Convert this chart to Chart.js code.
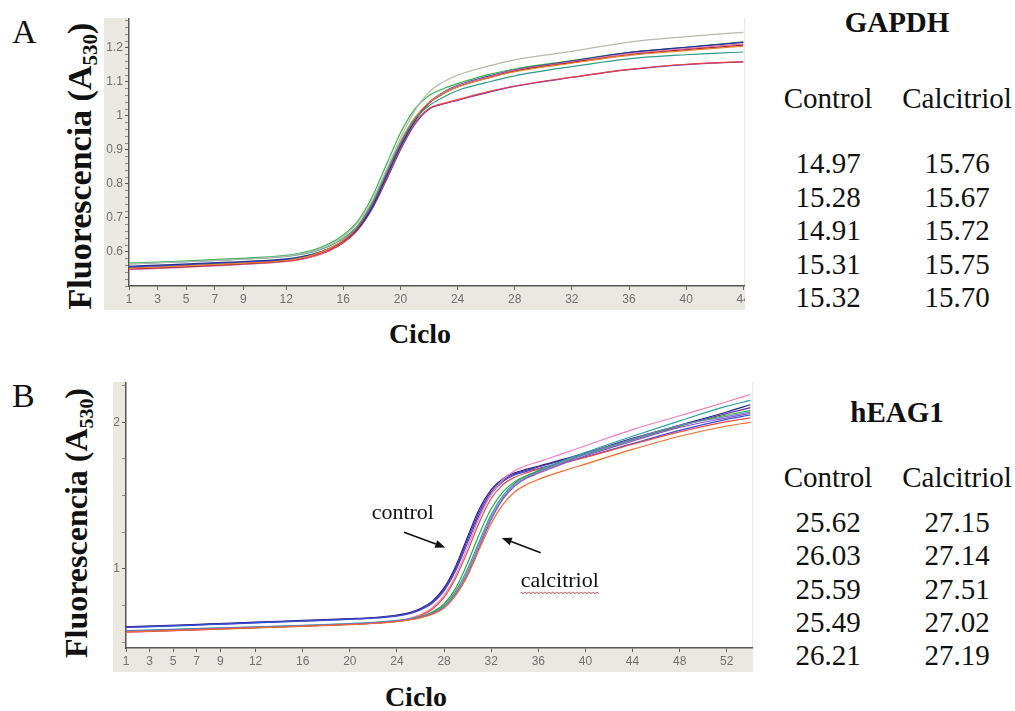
<!DOCTYPE html>
<html>
<head>
<meta charset="utf-8">
<script src="https://cdn.jsdelivr.net/npm/chart.js@4.4.0/dist/chart.umd.min.js"></script>
<style>
html, body { margin: 0; padding: 0; background: #fff; }
body { width: 1015px; height: 711px; position: relative; overflow: hidden; color: #111; font-family: "Liberation Serif", "Times New Roman", serif; }
canvas { position: absolute; }
.t { position: absolute; white-space: nowrap; }
.ytitle { position: absolute; white-space: nowrap; font-weight: bold; font-family: "Liberation Serif", "Times New Roman", serif; transform: translate(-50%, -50%) rotate(-90deg); }
.ytitle sub { font-size: 62%; vertical-align: -0.28em; }
</style>
</head>
<body>
<canvas id="chartA" width="641" height="292" style="left:104px;top:18px"></canvas>
<canvas id="chartB" width="640" height="290" style="left:113px;top:382px"></canvas>
<script>
// ---- Panel A (GAPDH) ----
const cyclesA = [1, 4, 8, 12, 13, 14, 15, 16, 17, 18, 19, 20, 21, 22, 23, 24, 26, 28, 32, 36, 40, 44];
const grayA   = [0.565, 0.570, 0.577, 0.588, 0.594, 0.604, 0.620, 0.645, 0.685, 0.750, 0.840, 0.935, 1.015, 1.070, 1.100, 1.120, 1.145, 1.165, 1.190, 1.217, 1.233, 1.246];
const greenA  = [0.567, 0.572, 0.580, 0.590, 0.597, 0.607, 0.624, 0.650, 0.690, 0.760, 0.855, 0.950, 1.020, 1.060, 1.080, 1.095, 1.120, 1.138, 1.163, 1.187, 1.202, 1.218];
const blueA   = [0.556, 0.561, 0.568, 0.578, 0.584, 0.594, 0.610, 0.632, 0.670, 0.735, 0.825, 0.915, 0.990, 1.040, 1.070, 1.090, 1.115, 1.135, 1.160, 1.186, 1.201, 1.217];
const orangeA = [0.552, 0.557, 0.565, 0.575, 0.582, 0.593, 0.610, 0.635, 0.675, 0.745, 0.835, 0.925, 0.995, 1.040, 1.066, 1.085, 1.110, 1.130, 1.155, 1.178, 1.192, 1.205];
const darkRedA = [0.550, 0.555, 0.563, 0.574, 0.580, 0.591, 0.608, 0.633, 0.672, 0.740, 0.830, 0.920, 0.990, 1.038, 1.065, 1.085, 1.110, 1.132, 1.157, 1.180, 1.195, 1.208];
const pinkA   = [0.548, 0.553, 0.561, 0.572, 0.579, 0.590, 0.607, 0.632, 0.672, 0.740, 0.830, 0.920, 0.990, 1.040, 1.068, 1.088, 1.113, 1.134, 1.159, 1.183, 1.198, 1.212];
const tealA   = [0.565, 0.570, 0.577, 0.587, 0.593, 0.602, 0.617, 0.640, 0.677, 0.742, 0.832, 0.920, 0.990, 1.030, 1.055, 1.075, 1.098, 1.118, 1.145, 1.168, 1.180, 1.188];
const redA    = [0.550, 0.555, 0.562, 0.572, 0.578, 0.588, 0.603, 0.627, 0.665, 0.730, 0.815, 0.905, 0.980, 1.022, 1.037, 1.048, 1.070, 1.088, 1.114, 1.137, 1.152, 1.160];
const purpleA = [0.554, 0.559, 0.566, 0.576, 0.582, 0.591, 0.605, 0.628, 0.664, 0.725, 0.810, 0.900, 0.975, 1.020, 1.035, 1.046, 1.068, 1.087, 1.113, 1.136, 1.151, 1.159];
const navyA   = [0.558, 0.563, 0.570, 0.580, 0.586, 0.595, 0.610, 0.632, 0.668, 0.730, 0.820, 0.910, 0.985, 1.038, 1.068, 1.088, 1.114, 1.135, 1.161, 1.186, 1.202, 1.216];
const xTicksA = [1, 3, 5, 7, 9, 12, 16, 20, 24, 28, 32, 36, 40, 44];
const yTicksA = [0.6, 0.7, 0.8, 0.9, 1, 1.1, 1.2];

// ---- Panel B (hEAG1) ----
const cyclesB = [1, 4, 8, 12, 16, 20, 22, 24, 25, 26, 27, 28, 29, 30, 31, 32, 33, 34, 35, 36, 38, 40, 44, 48, 52, 54];
const navyB   = [0.605, 0.612, 0.624, 0.636, 0.648, 0.660, 0.668, 0.685, 0.700, 0.730, 0.780, 0.870, 1.020, 1.220, 1.410, 1.540, 1.615, 1.655, 1.680, 1.700, 1.745, 1.790, 1.890, 1.980, 2.070, 2.120];
const blueB   = [0.600, 0.607, 0.619, 0.631, 0.643, 0.655, 0.663, 0.678, 0.692, 0.720, 0.765, 0.850, 0.990, 1.180, 1.370, 1.510, 1.595, 1.640, 1.665, 1.685, 1.725, 1.765, 1.855, 1.945, 2.020, 2.050];
const redB    = [0.570, 0.577, 0.588, 0.599, 0.610, 0.622, 0.630, 0.643, 0.656, 0.680, 0.725, 0.805, 0.940, 1.120, 1.320, 1.480, 1.575, 1.625, 1.655, 1.680, 1.720, 1.760, 1.850, 1.935, 2.005, 2.030];
const pinkB   = [0.568, 0.575, 0.586, 0.598, 0.610, 0.622, 0.630, 0.645, 0.660, 0.688, 0.735, 0.820, 0.960, 1.150, 1.350, 1.510, 1.610, 1.670, 1.705, 1.730, 1.785, 1.840, 1.950, 2.045, 2.140, 2.190];
const purpleB = [0.602, 0.609, 0.621, 0.633, 0.645, 0.657, 0.665, 0.681, 0.696, 0.725, 0.772, 0.860, 1.005, 1.200, 1.390, 1.525, 1.605, 1.648, 1.673, 1.695, 1.740, 1.785, 1.885, 1.975, 2.060, 2.100];
const greenB  = [0.572, 0.579, 0.589, 0.599, 0.609, 0.621, 0.629, 0.642, 0.653, 0.672, 0.705, 0.760, 0.870, 1.040, 1.240, 1.410, 1.525, 1.595, 1.635, 1.665, 1.725, 1.780, 1.880, 1.975, 2.050, 2.080];
const tealB   = [0.578, 0.585, 0.595, 0.605, 0.615, 0.627, 0.635, 0.648, 0.658, 0.675, 0.702, 0.748, 0.850, 1.000, 1.190, 1.370, 1.500, 1.585, 1.635, 1.670, 1.735, 1.795, 1.905, 2.010, 2.110, 2.150];
const slateB  = [0.575, 0.582, 0.592, 0.602, 0.612, 0.624, 0.632, 0.645, 0.655, 0.670, 0.697, 0.740, 0.835, 0.980, 1.170, 1.350, 1.485, 1.575, 1.625, 1.660, 1.725, 1.785, 1.885, 1.980, 2.040, 2.070];
const violetB = [0.573, 0.580, 0.590, 0.600, 0.610, 0.622, 0.630, 0.643, 0.653, 0.668, 0.693, 0.735, 0.825, 0.965, 1.150, 1.335, 1.475, 1.565, 1.618, 1.652, 1.715, 1.772, 1.872, 1.965, 2.030, 2.060];
const orangeB = [0.570, 0.577, 0.587, 0.597, 0.607, 0.619, 0.627, 0.640, 0.650, 0.665, 0.690, 0.732, 0.820, 0.955, 1.135, 1.310, 1.440, 1.525, 1.575, 1.610, 1.665, 1.715, 1.815, 1.905, 1.975, 2.000];
const xTicksB = [1, 3, 5, 7, 9, 12, 16, 20, 24, 28, 32, 36, 40, 44, 48, 52];
const yTicksB = [1, 2];

// ---- Ct tables ----
const gapdhControl = ["14.97", "15.28", "14.91", "15.31", "15.32"];
const gapdhCalcitriol = ["15.76", "15.67", "15.72", "15.75", "15.70"];
const heagControl = ["25.62", "26.03", "25.59", "25.49", "26.21"];
const heagCalcitriol = ["27.15", "27.14", "27.51", "27.02", "27.19"];

const seriesA = [
  [grayA, "#b9b9b0"], [tealA, "#2f9c8c"], [orangeA, "#e8862e"], [darkRedA, "#a8243e"],
  [pinkA, "#e27ab0"], [navyA, "#28308c"], [blueA, "#3a5ad6"], [greenA, "#38b548"],
  [redA, "#ee4040"], [purpleA, "#6a34c8"]
];
const seriesB = [
  [orangeB, "#f26a2a"], [violetB, "#8f52cc"], [slateB, "#7088b8"], [greenB, "#2fa83c"],
  [tealB, "#2aa0a0"], [redB, "#ec4a4a"], [pinkB, "#f07cc0"], [blueB, "#3350d8"],
  [purpleB, "#5b2c9e"], [navyB, "#1c2280"]
];

const panelBg = {
  id: "panelBg",
  beforeDraw(chart) {
    const { ctx, chartArea: a, width, height } = chart;
    ctx.save();
    ctx.fillStyle = "#ebe8e2";
    ctx.fillRect(0, 0, width, height);
    ctx.fillStyle = "#ffffff";
    ctx.fillRect(a.left, a.top, a.right - a.left, a.bottom - a.top);
    ctx.restore();
  }
};

function makeChart(id, cycles, series, xTicks, xMax, yMin, yMax, yMajor, yStep, yWidth) {
  const yAll = [];
  for (let v = Math.ceil(yMin / yStep) * yStep; v <= yMax + 1e-9; v += yStep) yAll.push(Math.round(v * 1000) / 1000);
  return new Chart(document.getElementById(id), {
    type: "line",
    data: {
      datasets: series.map(([vals, color]) => ({
        data: cycles.map((c, i) => ({ x: c, y: vals[i] })),
        borderColor: color,
        borderWidth: 1.2,
        pointRadius: 0,
        cubicInterpolationMode: "monotone",
        fill: false
      }))
    },
    options: {
      responsive: false,
      devicePixelRatio: 1,
      animation: false,
      events: [],
      layout: { padding: { top: 0, right: 1, left: 0, bottom: 0 } },
      plugins: { legend: { display: false }, tooltip: { enabled: false } },
      scales: {
        x: {
          type: "linear",
          min: 1,
          max: xMax,
          afterBuildTicks: s => { s.ticks = xTicks.map(v => ({ value: v })); },
          afterFit: s => { s.height = 24; s.paddingLeft = 0; s.paddingRight = 0; },
          ticks: {
            autoSkip: false, maxRotation: 0, minRotation: 0, padding: 2,
            color: "#707070", font: { family: "Liberation Sans", size: 12 },
            callback: v => String(v)
          },
          grid: { drawOnChartArea: false, drawTicks: true, tickLength: 4, tickColor: "#666" },
          border: { display: true, color: "#555", width: 1.5 }
        },
        y: {
          type: "linear",
          min: yMin,
          max: yMax,
          afterBuildTicks: s => { s.ticks = yAll.map(v => ({ value: v })); },
          afterFit: s => { s.width = yWidth; s.paddingTop = 0; s.paddingBottom = 0; },
          ticks: {
            autoSkip: false, padding: 2,
            color: "#707070", font: { family: "Liberation Sans", size: 12 },
            callback: v => {
              const r = Math.round(v * 1000) / 1000;
              return yMajor.some(m => Math.abs(m - r) < 1e-6) ? String(r) : "";
            }
          },
          grid: {
            drawOnChartArea: false, drawTicks: true, tickLength: 4,
            tickColor: ctx => {
              const r = Math.round(ctx.tick.value * 1000) / 1000;
              return yMajor.some(m => Math.abs(m - r) < 1e-6) ? "#555" : "#8a8a8a";
            }
          },
          border: { display: true, color: "#555", width: 1.5 }
        }
      }
    },
    plugins: [panelBg]
  });
}

const chartA = makeChart("chartA", cyclesA, seriesA, xTicksA, 44.05, 0.5, 1.288, yTicksA, 0.02, 25);
const chartB = makeChart("chartB", cyclesB, seriesB, xTicksB, 54.14, 0.46, 2.275, yTicksB, 0.25, 13);

// ---- text helpers ----
function addText(html, x, base, size, bold, center) {
  const d = document.createElement("div");
  d.className = "t";
  d.innerHTML = html;
  d.style.fontFamily = '"Liberation Serif", "Times New Roman", serif';
  d.style.fontSize = size + "px";
  d.style.fontWeight = bold ? "bold" : "normal";
  d.style.lineHeight = "0";
  d.style.left = x + "px";
  d.style.top = (base - 0.3375 * size) + "px";
  if (center) d.style.transform = "translateX(-50%)";
  document.body.appendChild(d);
  return d;
}
function addYTitle(cx, cy, size) {
  const d = document.createElement("div");
  d.className = "ytitle";
  d.innerHTML = "Fluorescencia (A<sub>530</sub>)";
  d.style.fontSize = size + "px";
  d.style.left = cx + "px";
  d.style.top = cy + "px";
  document.body.appendChild(d);
}

addText("A", 12, 43, 34, false, false);
addText("B", 12, 407, 34, false, false);
addYTitle(82, 166, 34);
addYTitle(78, 523, 32);
addText("Ciclo", 420, 343, 28, true, true);
addText("Ciclo", 416, 706, 28, true, true);

function addTable(title, titleBase, headBase, rowBase, rowStep, ctl, cal) {
  addText(title, 897, titleBase, 29, true, true);
  addText("Control", 828, headBase, 29, false, true);
  addText("Calcitriol", 957, headBase, 29, false, true);
  ctl.forEach((v, i) => addText(v, 828, rowBase + i * rowStep, 29, false, true));
  cal.forEach((v, i) => addText(v, 957, rowBase + i * rowStep, 29, false, true));
}
addTable("GAPDH", 32, 108, 173, 33.5, gapdhControl, gapdhCalcitriol);
addTable("hEAG1", 422, 487, 532, 33.2, heagControl, heagCalcitriol);

// ---- annotations on panel B (placed through the chart scales) ----
const notesB = [
  { text: "control", x: 24.5, y: 1.335, center: true },
  { text: "calcitriol", x: 34.5, y: 0.87, center: false, squiggle: true }
];
const arrowsB = [
  { from: [24.6, 1.25], to: [28.1, 1.145] },
  { from: [36.2, 1.11], to: [32.9, 1.21] }
];
const canvasB = document.getElementById("chartB");
const offB = { left: parseFloat(canvasB.style.left), top: parseFloat(canvasB.style.top) };
const sx = chartB.scales.x, sy = chartB.scales.y;
const ctxB = chartB.ctx;
ctxB.save();
ctxB.strokeStyle = "#111";
ctxB.fillStyle = "#111";
ctxB.lineWidth = 1.6;
arrowsB.forEach(a => {
  const x1 = sx.getPixelForValue(a.from[0]), y1 = sy.getPixelForValue(a.from[1]);
  const x2 = sx.getPixelForValue(a.to[0]), y2 = sy.getPixelForValue(a.to[1]);
  const ang = Math.atan2(y2 - y1, x2 - x1);
  const hl = 10, hw = 4;
  const bx = x2 - hl * Math.cos(ang), by = y2 - hl * Math.sin(ang);
  ctxB.beginPath();
  ctxB.moveTo(x1, y1);
  ctxB.lineTo(bx, by);
  ctxB.stroke();
  ctxB.beginPath();
  ctxB.moveTo(x2, y2);
  ctxB.lineTo(bx + hw * Math.sin(ang), by - hw * Math.cos(ang));
  ctxB.lineTo(bx - hw * Math.sin(ang), by + hw * Math.cos(ang));
  ctxB.closePath();
  ctxB.fill();
});
ctxB.font = '22px "Liberation Serif"';
notesB.forEach(n => {
  const px = sx.getPixelForValue(n.x), py = sy.getPixelForValue(n.y);
  addText(n.text, px + offB.left, py + offB.top, 22, false, n.center);
  if (n.squiggle) {
    const w = ctxB.measureText(n.text).width;
    ctxB.strokeStyle = "#d83a3a";
    ctxB.lineWidth = 1;
    ctxB.beginPath();
    for (let k = 0; k <= w; k += 2) {
      const yy = py + 4 + ((k / 2) % 2 === 0 ? 0 : 2);
      if (k === 0) ctxB.moveTo(px + k, yy); else ctxB.lineTo(px + k, yy);
    }
    ctxB.stroke();
  }
});
ctxB.restore();
</script>
</body>
</html>
